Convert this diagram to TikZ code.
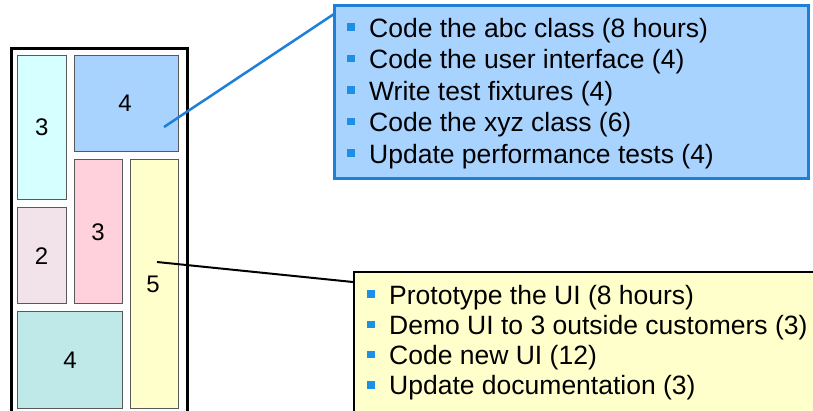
\documentclass[tikz,border=0pt]{standalone}
\usepackage{fontspec}
\setmainfont{Liberation Sans}
\definecolor{cyanbox}{HTML}{D6FFFF}
\definecolor{bluebox}{HTML}{A9D3FF}
\definecolor{pinkbox}{HTML}{FFD1DC}
\definecolor{lpinkbox}{HTML}{F2E3EA}
\definecolor{yellowbox}{HTML}{FFFFCC}
\definecolor{tealbox}{HTML}{BEE9E8}
\definecolor{blueline}{HTML}{1E7FD8}
\definecolor{bulletc}{HTML}{1E8FE6}
\begin{document}
\begin{tikzpicture}[x=1pt,y=-1pt,
  task/.style={draw=black!65,line width=1pt,inner sep=0pt},
  num/.style={font=\fontsize{24}{24}\selectfont,inner sep=0pt},
  item/.style={anchor=base west,inner sep=0pt,font=\fontsize{26.5}{30}\selectfont},
  bul/.style={fill=bulletc,minimum size=7.5pt,inner sep=0pt}]
\clip (0,0) rectangle (813,410);
\useasboundingbox (0,0) rectangle (813,410);
\fill[white] (0,0) rectangle (813,410);
% outer frame
\node[draw=black,line width=2.5pt,fill=white,minimum width=176pt,minimum height=400pt,inner sep=0pt,anchor=north west] (frame) at (10,47) {};
% task boxes
\node[task,fill=cyanbox,minimum width=49pt,minimum height=144pt] (c3) at (41.5,127) {};
\node[num] at (41.7,127) {3};
\node[task,fill=bluebox,minimum width=104pt,minimum height=96pt] (b4) at (126,103) {};
\node[num] at (125,103) {4};
\node[task,fill=pinkbox,minimum width=48pt,minimum height=144pt] (p3) at (98,231) {};
\node[num] at (98,232) {3};
\node[task,fill=lpinkbox,minimum width=49pt,minimum height=96pt] (l2) at (41.5,255) {};
\node[num] at (41.5,256) {2};
\node[task,fill=yellowbox,minimum width=48pt,minimum height=249pt] (y5) at (154,283.5) {};
\node[num] at (153,284) {5};
\node[task,fill=tealbox,minimum width=105pt,minimum height=97pt] (t4) at (69.5,359.5) {};
\node[num] at (70,360) {4};
% callouts
\node[draw=blueline,fill=bluebox,line width=2.5pt,anchor=north west,minimum width=474pt,minimum height=173pt,inner sep=0pt] (cb) at (333,4) {};
\node[draw=black,fill=yellowbox,line width=2pt,anchor=north west,minimum width=500pt,minimum height=200pt,inner sep=0pt] (cy) at (353,271) {};
% connectors
\coordinate (bs) at (164,127);
\coordinate (ys) at (157,262);
\draw[blueline,line width=2.5pt] (bs) -- ([shift={(1pt,-10pt)}]cb.north west);
\draw[black,line width=2pt] (ys) -- ([yshift=-11pt]cy.north west);
% blue list
\foreach \t [count=\i] in {Code the abc class (8 hours),Code the user interface (4),Write test fixtures (4),Code the xyz class (6),Update performance tests (4)}{
  \node[bul] (bb\i) at (351,{27+31.5*(\i-1)}) {};
  \node[item] (bt\i) at (369,{37+31.5*(\i-1)}) {\t};
}
% yellow list
\foreach \t [count=\i] in {Prototype the UI (8 hours),Demo UI to 3 outside customers (3),Code new UI (12),Update documentation (3)}{
  \node[bul] (yb\i) at (371,{294+30.3*(\i-1)}) {};
  \node[item] (yt\i) at (389,{304+30.3*(\i-1)}) {\t};
}
\end{tikzpicture}
\end{document}
